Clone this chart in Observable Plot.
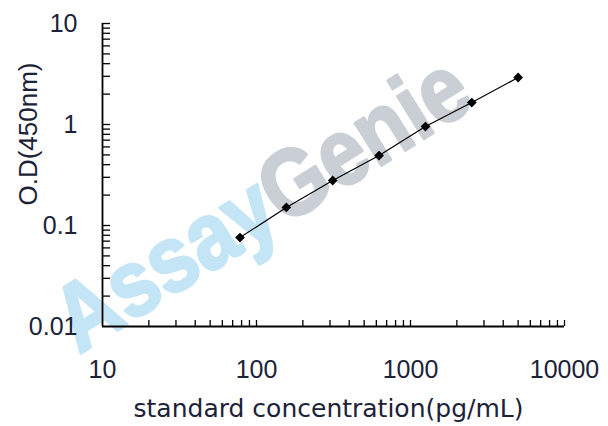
<!DOCTYPE html>
<html><head><meta charset="utf-8">
<script src="https://cdn.jsdelivr.net/npm/d3@7"></script>
<script src="https://cdn.jsdelivr.net/npm/@observablehq/plot@0.6"></script>
<style>body{margin:0;background:#fff}</style>
</head><body><div id="chart"></div>
<script>
const concentration = [78.125, 156.25, 312.5, 625, 1250, 2500, 5000];
const od = [0.076, 0.151, 0.279, 0.493, 0.955, 1.65, 2.92];
const xMajorTicks = [10, 100, 1000, 10000];
const yMajorTicks = [0.01, 0.1, 1, 10];
const xMinorTicks = [20, 30, 40, 50, 60, 70, 80, 90, 100, 200, 300, 400, 500, 600, 700, 800, 900, 1000, 2000, 3000, 4000, 5000, 6000, 7000, 8000, 9000, 10000];
const yMinorTicks = [0.02, 0.03, 0.04, 0.05, 0.06, 0.07, 0.08, 0.09, 0.1, 0.2, 0.3, 0.4, 0.5, 0.6, 0.7, 0.8, 0.9, 1, 2, 3, 4, 5, 6, 7, 8, 9, 10];
const xTitle = "standard concentration(pg/mL)";
const yTitle = "O.D(450nm)";
const watermark = ["Assay", "Genie"];

const data = concentration.map((c, i) => ({c, od: od[i]}));
const labelColor = "#1c2238";
const tickFont = "'Liberation Sans', Arial, sans-serif";

const chart = Plot.plot({
  width: 608,
  height: 426,
  marginLeft: 102,
  marginRight: 44,
  marginTop: 23,
  marginBottom: 100,
  style: {background: "#fff", overflow: "visible", fontFamily: tickFont},
  x: {type: "log", domain: [10, 10000]},
  y: {type: "log", domain: [0.01, 10]},
  marks: [
    Plot.axisX(xMinorTicks, {tickSize: -6, tickFormat: () => "", label: null, stroke: "#000", strokeWidth: 1.3}),
    Plot.axisY(yMinorTicks, {tickSize: -8, tickFormat: () => "", label: null, stroke: "#000", strokeWidth: 1.3}),
    Plot.axisX(xMajorTicks, {tickSize: 0, tickPadding: 34, tickFormat: d => String(d), label: null, fontSize: 25, fontFamily: tickFont, color: labelColor}),
    Plot.axisY(yMajorTicks, {tickSize: 0, tickPadding: 25, tickFormat: d => String(d), label: null, fontSize: 25, fontFamily: tickFont, color: labelColor}),
    Plot.ruleX([10], {stroke: "#000", strokeWidth: 1.8}),
    Plot.ruleY([0.01], {stroke: "#000", strokeWidth: 1.8}),
    Plot.line(data, {x: "c", y: "od", stroke: "#000", strokeWidth: 1.2}),
    Plot.dot(data, {x: "c", y: "od", symbol: "diamond2", r: 4.4, fill: "#000", stroke: "none"}),
    Plot.text([xTitle], {frameAnchor: "bottom", text: d => d, dx: -5, dy: 82, textAnchor: "middle", lineAnchor: "middle", fontSize: 25, fontFamily: "Verdana, 'DejaVu Sans', sans-serif", fill: labelColor}),
    Plot.text([yTitle], {frameAnchor: "left", text: d => d, dx: -74, dy: -41, rotate: -90, textAnchor: "middle", lineAnchor: "middle", fontSize: 26, fontFamily: tickFont, fill: labelColor})
  ]
});

// watermark behind the plot marks
const svg = d3.select(chart);
const wm = svg.insert("text", "g")
  .attr("transform", "translate(278,230) rotate(-32) scale(1,1.15)")
  .attr("text-anchor", "middle")
  .attr("font-family", "'Liberation Sans', Arial, sans-serif")
  .attr("font-weight", "bold")
  .attr("font-size", 82)
  .attr("stroke-width", 2.5)
  .attr("stroke-linejoin", "round");
wm.append("tspan").attr("fill", "#c4e5f5").attr("stroke", "#c4e5f5").text(watermark[0]);
wm.append("tspan").attr("fill", "#cacfd6").attr("stroke", "#cacfd6").text(watermark[1]);

document.getElementById("chart").appendChild(chart);
</script>
</body></html>
